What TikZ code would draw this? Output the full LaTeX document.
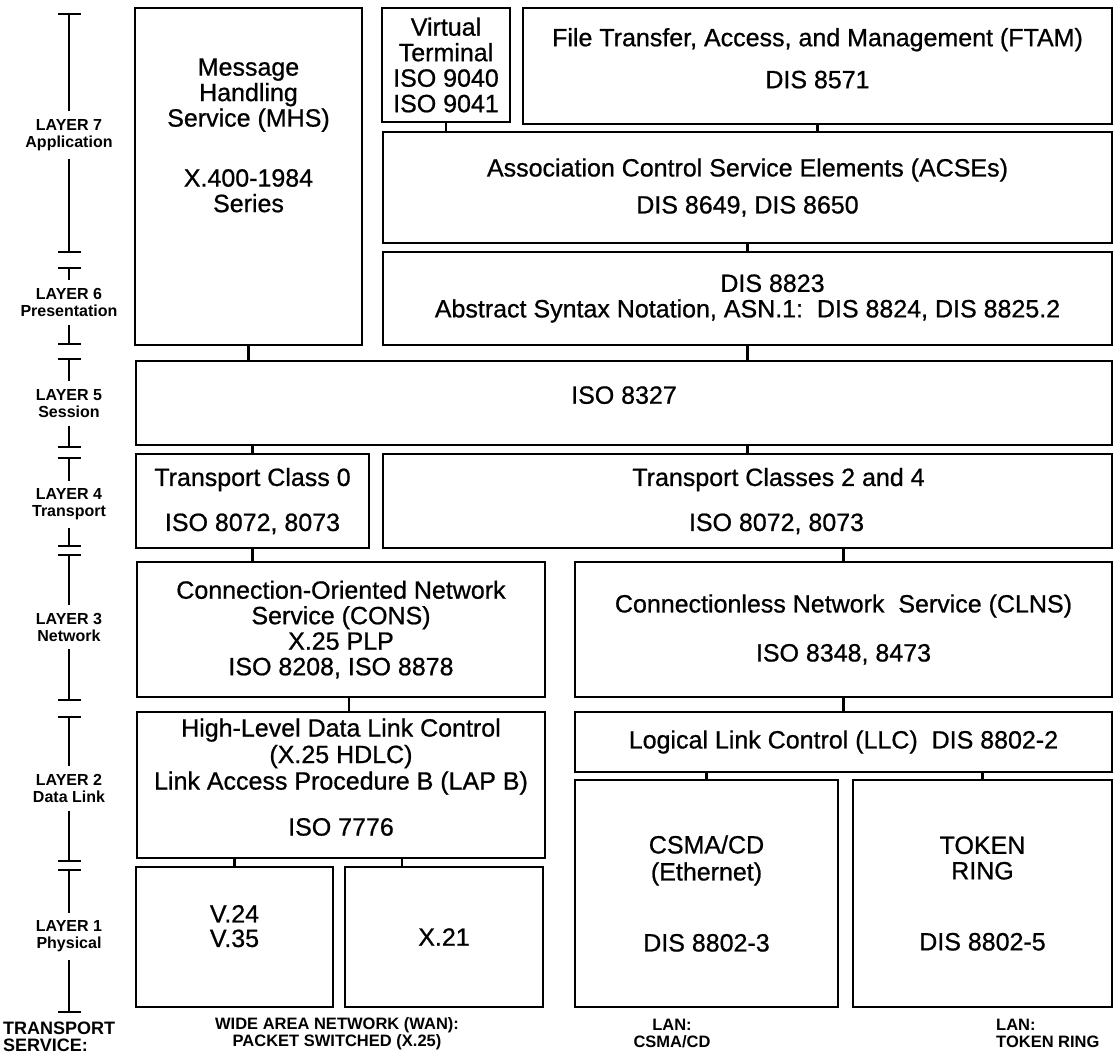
\documentclass[tikz,border=0pt]{standalone}
\usepackage{fontspec}
\setmainfont{Liberation Sans}
\newfontfamily\heavyfam{Liberation Sans}[FakeBold=0.8]
\usetikzlibrary{arrows.meta}

\newcommand{\boxfont}{\heavyfam\fontsize{25pt}{25.5pt}\selectfont}
\newcommand{\layerfont}{\fontsize{16pt}{17pt}\selectfont\bfseries}
\newcommand{\netfont}{\fontsize{16.5pt}{17pt}\selectfont\bfseries}

\begin{document}
\begin{tikzpicture}[
    x=1pt, y=-1pt,
    box/.style={draw, line width=2.3pt, anchor=north west, inner sep=0pt, outer sep=0pt,
      align=center, font=\boxfont},
    link/.style={line width=2.3pt},
    layer/.style={align=center, inner sep=0pt, outer ysep=8pt, font=\layerfont},
    tickup/.style={line width=1.8pt, {Bar[width=23pt]}-},
    tickdown/.style={line width=1.8pt, -{Bar[width=23pt]}},
    net/.style={align=center, inner sep=0pt, font=\netfont}
  ]
  \useasboundingbox (0,0) rectangle (1115,1057);

  % layers 7 and 6
  \node[box, minimum width=227pt, minimum height=337pt] (mhs) at (135,8)
    {Message\\Handling\\Service (MHS)\\[34.5pt]X.400-1984\\Series\\[57pt]\mbox{}};
  \node[box, minimum width=128pt, minimum height=114pt] (vt) at (382,8)
    {Virtual\\Terminal\\ISO 9040\\ISO 9041};
  \node[box, minimum width=589pt, minimum height=116pt] (ftam) at (523,8)
    {File Transfer, Access, and Management (FTAM)\\[16.5pt]DIS 8571\\[-9.8pt]\mbox{}};
  \node[box, minimum width=729pt, minimum height=111pt] (acse) at (383,132)
    {Association Control Service Elements (ACSEs)\\[11.5pt]DIS 8649, DIS 8650};
  \node[box, minimum width=729pt, minimum height=93pt] (pres) at (383,252)
    {\hspace*{50pt}DIS 8823\\Abstract Syntax Notation, ASN.1:\ \ DIS 8824, DIS 8825.2};

  % layer 5
  \node[box, minimum width=976pt, minimum height=84pt] (ses) at (136,361)
    {ISO 8327\\[-9.5pt]\mbox{}};

  % layer 4
  \node[box, minimum width=233pt, minimum height=94pt] (tc0) at (136,454)
    {Transport Class 0\\[19.5pt]ISO 8072, 8073};
  \node[box, minimum width=729pt, minimum height=94pt] (tc24) at (383,454)
    {\hspace*{62pt}Transport Classes 2 and 4\\[19.5pt]\hspace*{58pt}ISO 8072, 8073};

  % layer 3
  \node[box, minimum width=408pt, minimum height=135pt] (cons) at (137,562)
    {Connection-Oriented Network\\Service (CONS)\\X.25 PLP\\ISO 8208, ISO 8878};
  \node[box, minimum width=537pt, minimum height=135pt] (clns) at (575,562)
    {Connectionless Network\ \ Service (CLNS)\\[23.5pt]ISO 8348, 8473};

  % layer 2
  \node[box, minimum width=408pt, minimum height=146pt] (hdlc) at (137,712)
    {High-Level Data Link Control\\[1pt](X.25 HDLC)\\[1pt]Link Access Procedure B (LAP B)\\[20.5pt]ISO 7776\\[-9.5pt]\mbox{}};
  \node[box, minimum width=537pt, minimum height=60pt] (llc) at (575,712)
    {Logical Link Control (LLC)\ \ DIS 8802-2};

  % layer 1
  \node[box, minimum width=197pt, minimum height=140pt] (v24) at (136,867)
    {V.24\\[-1pt]V.35\\[-3.5pt]\mbox{}};
  \node[box, minimum width=198pt, minimum height=140pt] (x21) at (345,867) {X.21};
  \node[box, minimum width=263pt, minimum height=227pt] (csma) at (575,780)
    {CSMA/CD\\[1.5pt](Ethernet)\\[45.5pt]DIS 8802-3};
  \node[box, minimum width=259pt, minimum height=227pt] (token) at (853,780)
    {TOKEN\\RING\\[45.5pt]DIS 8802-5};

  % connectors
  \draw[link] (vt.south) -- (vt.south |- acse.north);
  \draw[link] (ftam.south) -- (ftam.south |- acse.north);
  \draw[link] (acse.south) -- (acse.south |- pres.north);
  \draw[link] (mhs.south) -- (mhs.south |- ses.north);
  \draw[link] (pres.south) -- (pres.south |- ses.north);
  \draw[link] (tc0.north) -- (tc0.north |- ses.south);
  \draw[link] (tc24.north) -- (tc24.north |- ses.south);
  \draw[link] (tc0.south) -- (tc0.south |- cons.north);
  \draw[link] (clns.north) -- (clns.north |- tc24.south);
  \draw[link] ([xshift=8pt]cons.south) -- ([xshift=8pt]cons.south |- hdlc.north);
  \draw[link] (llc.north) -- (llc.north |- clns.south);
  \draw[link] (v24.north) -- (v24.north |- hdlc.south);
  \draw[link] ([xshift=-42pt]x21.north) -- ([xshift=-42pt]x21.north |- hdlc.south);
  \draw[link] (csma.north) -- (csma.north |- llc.south);
  \draw[link] (token.north) -- (token.north |- llc.south);

  % layer scale on the left
  \coordinate (t7) at (69,13);  \coordinate (b7) at (69,253);
  \coordinate (t6) at (69,267); \coordinate (b6) at (69,345);
  \coordinate (t5) at (69,358); \coordinate (b5) at (69,448);
  \coordinate (t4) at (69,457); \coordinate (b4) at (69,547);
  \coordinate (t3) at (69,554); \coordinate (b3) at (69,701);
  \coordinate (t2) at (69,716); \coordinate (b2) at (69,862);
  \coordinate (t1) at (69,869); \coordinate (b1) at (69,1013);
  \node[layer] (l7) at (69,135) {LAYER 7\\Application};
  \node[layer] (l6) at (69,302.5) {LAYER 6\\Presentation};
  \node[layer] (l5) at (69,403.5) {LAYER 5\\Session};
  \node[layer] (l4) at (69,504.5) {LAYER 4\\Transport};
  \node[layer] (l3) at (69,627) {LAYER 3\\Network};
  \node[layer] (l2) at (69,788.5) {LAYER 2\\Data Link};
  \node[layer] (l1) at (69,936.5) {LAYER 1\\Physical};
  \draw[tickup] (t7) -- (l7.north);  \draw[tickdown] (l7.south) -- (b7);
  \draw[tickup] (t6) -- (l6.north);  \draw[tickdown] (l6.south) -- (b6);
  \draw[tickup] (t5) -- (l5.north);  \draw[tickdown] (l5.south) -- (b5);
  \draw[tickup] (t4) -- (l4.north);  \draw[tickdown] (l4.south) -- (b4);
  \draw[tickup] (t3) -- (l3.north);  \draw[tickdown] (l3.south) -- (b3);
  \draw[tickup] (t2) -- (l2.north);  \draw[tickdown] (l2.south) -- (b2);
  \draw[tickup] (t1) -- (l1.north);  \draw[tickdown] (l1.south) -- (b1);

  % transport service row
  \node[net, align=left, anchor=west, font=\fontsize{18pt}{17pt}\selectfont\bfseries] (ts) at (3,1036.5)
    {TRANSPORT\\SERVICE:};
  \node[net] (wan) at (337,1033.5) {WIDE AREA NETWORK (WAN):\\PACKET SWITCHED (X.25)};
  \node[net] (lancd) at (672,1033.5) {LAN:\\CSMA/CD};
  \node[net, align=left, anchor=west] (lantr) at (996,1033.5) {LAN:\\TOKEN RING};
\end{tikzpicture}
\end{document}
